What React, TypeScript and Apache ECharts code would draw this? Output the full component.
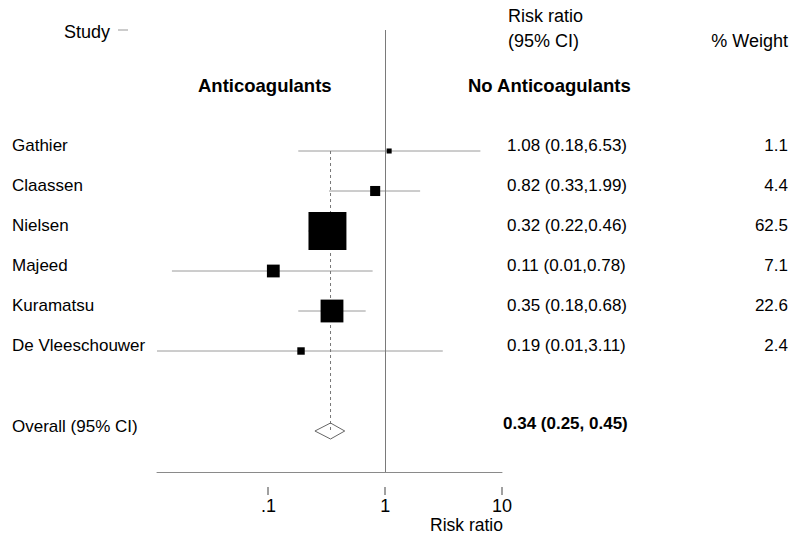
import React, { useEffect, useRef } from "react";
import * as echarts from "echarts";

const studies = ["Gathier", "Claassen", "Nielsen", "Majeed", "Kuramatsu", "De Vleeschouwer"];
const riskRatio = [1.08, 0.82, 0.32, 0.11, 0.35, 0.19];
const ciLow = [0.18, 0.33, 0.22, 0.0149, 0.18, 0.01];
const ciHigh = [6.53, 1.99, 0.46, 0.78, 0.68, 3.11];
const weights = [1.1, 4.4, 62.5, 7.1, 22.6, 2.4];
const overall = { label: "Overall (95% CI)", est: 0.34, lo: 0.25, hi: 0.45 };
const tickValues = [0.1, 1, 10];
const tickLabels = [".1", "1", "10"];

const FONT = "'Liberation Sans', Arial, Helvetica, sans-serif";
const OVERALL_ROW = 7;
const X_MIN = 0.0111;
const X_MAX = 10;
const Y_MIN = -3.025;
const Y_MAX = 8.025;

export default function App() {
  const ref = useRef<HTMLDivElement>(null);
  useEffect(() => {
    if (!ref.current) return;
    const chart = echarts.init(ref.current, undefined, { renderer: "svg" });
    const fmt2 = (v: number) => v.toFixed(2);
    const hdr = (text: string, x: number, y: number, opts: any = {}) => ({
      type: "text",
      x,
      y,
      silent: true,
      style: {
        text,
        fontSize: opts.size || 18,
        fontFamily: FONT,
        fontWeight: opts.bold ? "bold" : "normal",
        fill: "#000",
        align: opts.align || "left",
        verticalAlign: "middle",
      },
    });
    const option: any = {
      animation: false,
      backgroundColor: "#fff",
      grid: { left: 157, right: 298, top: 30, bottom: 68 },
      xAxis: [
        {
          type: "log",
          logBase: 10,
          min: X_MIN,
          max: X_MAX,
          axisLine: { show: true, onZero: false, lineStyle: { color: "#8a8a8a", width: 1 } },
          axisTick: { show: false },
          axisLabel: {
            show: true,
            margin: 25,
            customValues: tickValues,
            fontSize: 18,
            fontFamily: FONT,
            color: "#000",
            formatter: (v: number) => {
              const idx = tickValues.findIndex((t) => Math.abs(t - v) / t < 1e-6);
              return idx >= 0 ? tickLabels[idx] : "";
            },
          },
          splitLine: { show: false },
        },
      ],
      yAxis: { type: "value", inverse: true, min: Y_MIN, max: Y_MAX, show: false },
      series: [
        {
          type: "custom",
          name: "tickMarks",
          clip: false,
          encode: { x: 0, y: 1 },
          data: tickValues.map((v) => [v, OVERALL_ROW]),
          renderItem: (params: any, api: any) => {
            const p = api.coord([api.value(0), api.value(1)]);
            const cs = params.coordSys;
            const bottom = cs.y + cs.height;
            return {
              type: "rect",
              shape: { x: Math.round(p[0]) - 1, y: bottom + 15, width: 2, height: 8 },
              style: { fill: "#a0a0a0" },
            };
          },
          z: 3,
        },
        {
          type: "custom",
          name: "ci",
          encode: { x: [0, 1], y: 2 },
          data: studies.map((_, i) => [ciLow[i], ciHigh[i], i]),
          renderItem: (params: any, api: any) => {
            const row = api.value(2);
            const p1 = api.coord([api.value(0), row]);
            const p2 = api.coord([api.value(1), row]);
            const cs = params.coordSys;
            const x1 = Math.max(p1[0], cs.x);
            const x2 = Math.min(p2[0], cs.x + cs.width);
            return {
              type: "line",
              shape: { x1, y1: p1[1], x2, y2: p2[1] },
              style: { stroke: "#9a9a9a", lineWidth: 1 },
            };
          },
          z: 2,
          silent: true,
        },
        {
          type: "line",
          name: "null",
          data: [],
          markLine: {
            silent: true,
            symbol: "none",
            label: { show: false },
            lineStyle: { color: "#7a7a7a", type: "solid", width: 1, opacity: 1 },
            data: [{ xAxis: 1 }],
          },
          z: 1,
        },
        {
          type: "line",
          name: "pooled",
          data: [
            [overall.est, 0],
            [overall.est, OVERALL_ROW],
          ],
          symbol: "none",
          lineStyle: { color: "#777", width: 1, type: [3, 3], opacity: 1 },
          z: 2,
          silent: true,
        },
        {
          type: "scatter",
          name: "estimates",
          data: riskRatio.map((v, i) => [v, i]),
          symbol: "rect",
          symbolSize: (_v: any, p: any) => 4.8 * Math.sqrt(weights[p.dataIndex]),
          itemStyle: { color: "#000", opacity: 1 },
          z: 5,
          silent: true,
        },
        {
          type: "custom",
          name: "diamond",
          encode: { x: [0, 1, 2], y: 3 },
          data: [[overall.lo, overall.est, overall.hi, OVERALL_ROW]],
          renderItem: (_params: any, api: any) => {
            const row = api.value(3);
            const l = api.coord([api.value(0), row]);
            const t = api.coord([api.value(1), row - 0.2]);
            const r = api.coord([api.value(2), row]);
            const b = api.coord([api.value(1), row + 0.2]);
            return {
              type: "polygon",
              shape: { points: [l, t, r, b] },
              style: { fill: "none", stroke: "#666", lineWidth: 1 },
            };
          },
          z: 4,
          silent: true,
        },
        {
          type: "custom",
          name: "texts",
          encode: { x: 0, y: 1 },
          clip: false,
          data: studies.map((_, i) => [1, i]),
          renderItem: (params: any, api: any) => {
            const i = params.dataIndex;
            const y = api.coord([1, api.value(1)])[1] - 6;
            const st = (text: string, align: string) => ({
              text,
              fontSize: 17,
              fontFamily: FONT,
              fill: "#000",
              align,
              verticalAlign: "middle",
            });
            return {
              type: "group",
              children: [
                { type: "text", x: 12, y, style: st(studies[i], "left") },
                {
                  type: "text",
                  x: 507,
                  y,
                  style: st(`${fmt2(riskRatio[i])} (${fmt2(ciLow[i])},${fmt2(ciHigh[i])})`, "left"),
                },
                { type: "text", x: 788, y, style: st(weights[i].toFixed(1), "right") },
              ],
            };
          },
          z: 6,
          silent: true,
        },
        {
          type: "custom",
          name: "overallText",
          encode: { x: 0, y: 1 },
          clip: false,
          data: [[1, OVERALL_ROW]],
          renderItem: (_params: any, api: any) => {
            const y = api.coord([1, api.value(1)])[1];
            return {
              type: "group",
              children: [
                {
                  type: "text",
                  x: 12,
                  y: y - 5,
                  style: { text: overall.label, fontSize: 17, fontFamily: FONT, fill: "#000", align: "left", verticalAlign: "middle" },
                },
                {
                  type: "text",
                  x: 503,
                  y: y - 8,
                  style: {
                    text: `${fmt2(overall.est)} (${fmt2(overall.lo)}, ${fmt2(overall.hi)})`,
                    fontSize: 17,
                    fontWeight: "bold",
                    fontFamily: FONT,
                    fill: "#000",
                    align: "left",
                    verticalAlign: "middle",
                  },
                },
              ],
            };
          },
          z: 6,
          silent: true,
        },
      ],
      graphic: [
        hdr("Study", 64, 32),
        { type: "line", silent: true, shape: { x1: 118, y1: 30, x2: 128, y2: 30 }, style: { stroke: "#999", lineWidth: 1 } },
        hdr("Risk ratio", 508, 16),
        hdr("(95% CI)", 508, 41),
        hdr("% Weight", 788, 41, { align: "right" }),
        hdr("Anticoagulants", 198, 85, { bold: true, size: 18.5 }),
        hdr("No Anticoagulants", 468, 85, { bold: true, size: 18.5 }),
        hdr("Risk ratio", 503, 525, { align: "right", size: 17.5 }),
      ],
    };
    chart.setOption(option);
    return () => chart.dispose();
  }, []);
  return (
    <div
      ref={ref}
      style={{ position: "fixed", left: 0, top: 0, width: 800, height: 540, background: "#fff" }}
    />
  );
}
